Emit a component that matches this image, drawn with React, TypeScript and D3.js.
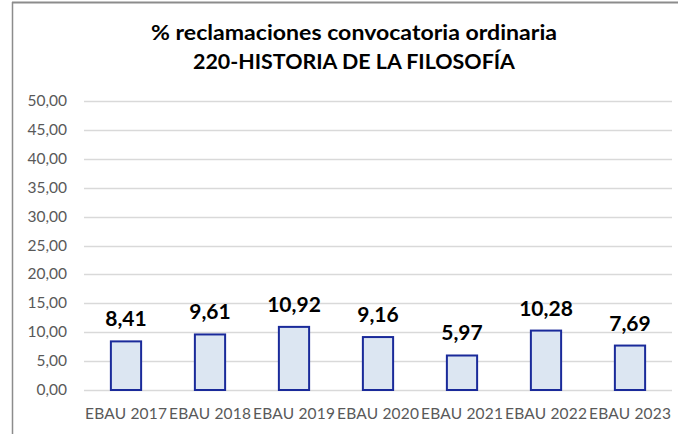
import React, { useEffect, useRef } from "react";
import * as d3 from "d3";

const categories = ["EBAU 2017", "EBAU 2018", "EBAU 2019", "EBAU 2020", "EBAU 2021", "EBAU 2022", "EBAU 2023"];
const values = [8.41, 9.61, 10.92, 9.16, 5.97, 10.28, 7.69];
const yTicks = [0, 5, 10, 15, 20, 25, 30, 35, 40, 45, 50];
const titleLines = ["% reclamaciones convocatoria ordinaria", "220-HISTORIA DE LA FILOSOFÍA"];
const titleWidths = [406, 322];

const width = 678;
const height = 434;
const margin = { top: 101, right: 6, bottom: 44, left: 84 };

const fmt = (v: number) => v.toFixed(2).replace(".", ",");

const App = () => {
  const ref = useRef<SVGSVGElement>(null);

  useEffect(() => {
    const svg = d3.select(ref.current);
    svg.selectAll("*").remove();

    // frame
    svg.append("line").attr("x1", 12).attr("x2", width).attr("y1", 2.5).attr("y2", 2.5)
      .attr("stroke", "#8c8c8c").attr("stroke-width", 2);
    svg.append("line").attr("x1", 12.5).attr("x2", 12.5).attr("y1", 2).attr("y2", height)
      .attr("stroke", "#8c8c8c").attr("stroke-width", 1.5);

    // title
    svg.append("g").selectAll("text").data(titleLines).enter().append("text")
      .attr("x", 354).attr("y", (d, i) => 40 + i * 29)
      .attr("text-anchor", "middle")
      .attr("font-family", "Lato, sans-serif").attr("font-weight", "bold").attr("font-size", 21.5)
      .attr("textLength", (d, i) => titleWidths[i]).attr("lengthAdjust", "spacingAndGlyphs")
      .attr("fill", "#000").text((d) => d);

    const x = d3.scaleBand().domain(categories).range([margin.left, width - margin.right]).paddingInner(0.64).paddingOuter(0.32);
    const y = d3.scaleLinear().domain([0, 50]).range([height - margin.bottom, margin.top]);

    // gridlines
    svg.append("g").selectAll("line").data(yTicks).enter().append("line")
      .attr("x1", margin.left).attr("x2", width - margin.right)
      .attr("y1", (d) => Math.round(y(d)) + 0.5).attr("y2", (d) => Math.round(y(d)) + 0.5)
      .attr("stroke", "#d9d9d9").attr("stroke-width", 1.5);

    // y labels
    svg.append("g").selectAll("text").data(yTicks).enter().append("text")
      .attr("x", 67).attr("y", (d) => y(d) + 5)
      .attr("text-anchor", "end")
      .attr("font-family", "Lato, sans-serif").attr("font-size", 15.5)
      .attr("fill", "#595959").text((d) => fmt(d));

    // bars
    svg.append("g").selectAll("rect").data(values).enter().append("rect")
      .attr("x", (d, i) => x(categories[i])!)
      .attr("y", (d) => y(d))
      .attr("width", x.bandwidth())
      .attr("height", (d) => y(0) - y(d))
      .attr("fill", "#dce6f2").attr("stroke", "#1a2a9a").attr("stroke-width", 2);

    // value labels
    svg.append("g").selectAll("text").data(values).enter().append("text")
      .attr("x", (d, i) => x(categories[i])! + x.bandwidth() / 2)
      .attr("y", (d) => y(d) - 15)
      .attr("text-anchor", "middle")
      .attr("font-family", "Lato, sans-serif").attr("font-weight", "bold").attr("font-size", 21)
      .attr("fill", "#000").text((d) => fmt(d));

    // x labels
    const step = x.step();
    svg.append("g").selectAll("text").data(categories).enter().append("text")
      .attr("x", (d) => x(d)! + x.bandwidth() / 2)
      .attr("y", 419)
      .attr("text-anchor", "middle")
      .attr("font-family", "Lato, sans-serif").attr("font-size", 15.5)
      .attr("textLength", step - 2).attr("lengthAdjust", "spacing")
      .attr("fill", "#595959").text((d) => d);
  }, []);

  return (
    <svg ref={ref} width={width} height={height} style={{ position: "absolute", left: 0, top: 0, background: "#fff" }} />
  );
};

export default App;
